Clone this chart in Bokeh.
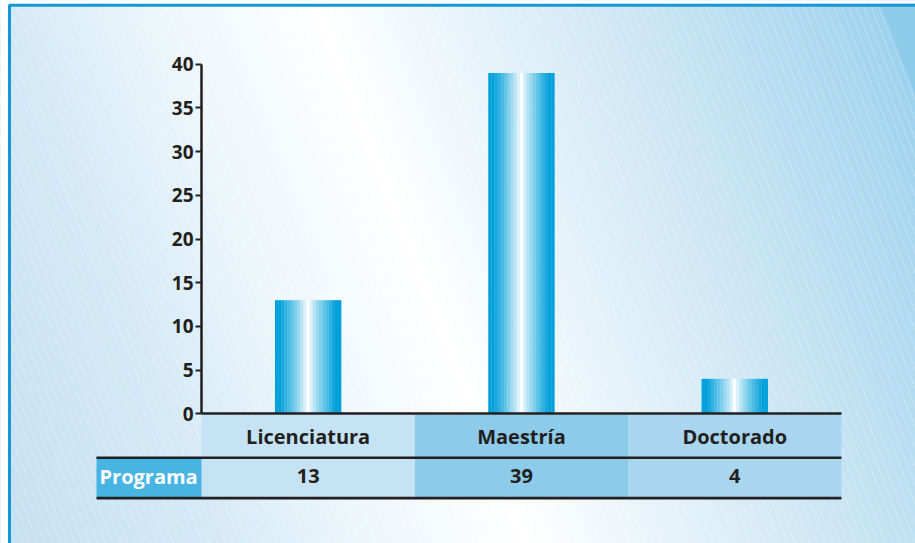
import numpy as np
from bokeh.plotting import figure
from bokeh.models import Range1d, LinearAxis, FixedTicker
from bokeh.embed import file_html
from bokeh.resources import INLINE
from bokeh.core.properties import value

# --- data -------------------------------------------------------------
categories = ["Licenciatura", "Maestría", "Doctorado"]
programas = [13, 39, 4]
row_label = "Programa"
y_ticks = [0, 5, 10, 15, 20, 25, 30, 35, 40]

# --- layout (pixels) --------------------------------------------------
W, H = 915, 543
COL_PX = 213.3      # width of one table column
AXIS_PX = 201       # x pixel of the value axis / left edge of the table
ZERO_PX = 413.3     # y pixel of value 0
UNIT_PX = 8.74      # pixels per unit of the value axis
TABLE_RIGHT = AXIS_PX + len(categories) * COL_PX
LABEL_CELL_LEFT = 96

x_range = Range1d(-0.5 - AXIS_PX / COL_PX, -0.5 + (W - AXIS_PX) / COL_PX)
y_range = Range1d(-(H - ZERO_PX) / UNIT_PX, ZERO_PX / UNIT_PX)

p = figure(width=W, height=H, x_range=x_range, y_range=y_range,
           output_backend="svg", toolbar_location=None,
           x_axis_location=None, y_axis_location=None,
           min_border=0, outline_line_color=None,
           border_fill_color="white", background_fill_color="white")
# pixel-space ranges for the decorative backdrop and the table
p.extra_x_ranges = {"px": Range1d(0, W)}
p.extra_y_ranges = {"px": Range1d(H, 0)}
PX = dict(x_range_name="px", y_range_name="px")


def hex2rgb(h):
    h = h.lstrip("#")
    return np.array([int(h[i:i + 2], 16) for i in (0, 2, 4)], dtype=float)


def rgb2hex(c):
    c = np.clip(np.round(c), 0, 255).astype(int)
    return "#%02x%02x%02x" % tuple(c)


# --- slanted gradient backdrop ----------------------------------------
SLOPE = 0.39
stops = [(-230, "#c3dff1"), (0, "#d3e9f6"), (150, "#ecf6fb"), (315, "#ffffff"),
         (460, "#e6f3fa"), (650, "#c8e4f3"), (860, "#a2d4ee"), (877, "#9cd2ed"),
         (879, "#8ecbea"), (1000, "#8ecbea")]
stop_u = np.array([s[0] for s in stops], dtype=float)
stop_c = np.array([hex2rgb(s[1]) for s in stops])


def grad_color(u):
    return rgb2hex([np.interp(u, stop_u, stop_c[:, j]) for j in range(3)])


band = 5.0
bxs, bys, bcols = [], [], []
for u0 in np.arange(-SLOPE * H - band, W + band, band):
    u1 = u0 + band + 0.6
    bxs.append([u0, u1, u1 + SLOPE * H, u0 + SLOPE * H])
    bys.append([0, 0, H, H])
    bcols.append(grad_color(u0 + band / 2))
p.patches(bxs, bys, fill_color=bcols, line_color=None, **PX)

# fine diagonal pinstripes
sxs, sys_ = [], []
for u in np.arange(-SLOPE * H, 876, 7.5):
    sxs.append([u, u + SLOPE * H])
    sys_.append([0, H])
p.multi_line(sxs, sys_, line_color="white", line_alpha=0.3, line_width=0.9, **PX)

# white margin and blue frame
p.quad(left=[0, 0], right=[7.5, W], top=[0, 0], bottom=[H, 3.3],
       fill_color="white", line_color=None, **PX)
p.multi_line([[9, 9, W + 5]], [[H + 5, 4.8, 4.8]], line_color="#1798d5",
             line_width=3, **PX)

# --- data table under the bars ----------------------------------------
idx = list(range(len(categories)))
col_colors = ["#c5e3f4", "#8ccbea", "#a8d6ef"]
p.quad(left=[i - 0.5 for i in idx], right=[i + 0.5 for i in idx],
       top=414, bottom=456.5, fill_color=col_colors, line_color=None,
       y_range_name="px")
p.quad(left=[i - 0.5 for i in idx], right=[i + 0.5 for i in idx],
       top=458, bottom=497, fill_color=col_colors, line_color=None,
       y_range_name="px")
p.quad(left=[LABEL_CELL_LEFT], right=[AXIS_PX], top=[456.5], bottom=[497],
       fill_color="#48b4e3", line_color=None, **PX)
p.segment(x0=[LABEL_CELL_LEFT, LABEL_CELL_LEFT], x1=[TABLE_RIGHT, TABLE_RIGHT],
          y0=[457.3, 497.6], y1=[457.3, 497.6], line_color="#231f20",
          line_width=2.6, **PX)

text_style = dict(text_font=value("Open Sans"), text_font_style="bold",
                  text_font_size="20px", text_baseline="middle")
p.text(x=idx, y=[436] * len(idx), text=categories, text_align="center",
       text_color="#231f20", y_range_name="px", **text_style)
p.text(x=idx, y=[475.5] * len(idx), text=[str(v) for v in programas],
       text_align="center", text_color="#231f20", y_range_name="px", **text_style)
p.text(x=[99], y=[476], text=[row_label], text_align="left",
       text_color="white", **PX, **text_style)

# --- bars with a metallic cylinder shading ----------------------------
N = 21
BAR_W = 0.31
strip_w = BAR_W / N
edge = hex2rgb("#00a0da")
white = np.array([255.0, 255.0, 255.0])
strip_colors = []
for k in range(N):
    t = min(1.0, abs(k - (N - 1) / 2) / ((N - 1) / 2) * 1.12) ** 0.85
    strip_colors.append(rgb2hex(white + (edge - white) * t))

sx, stop_, scol = [], [], []
for i, v in enumerate(programas):
    for k in range(N):
        sx.append(i - BAR_W / 2 + (k + 0.5) * strip_w)
        stop_.append(v)
        scol.append(strip_colors[k])
p.vbar(x=sx, top=stop_, bottom=0, width=strip_w * 1.08,
       fill_color=scol, line_color=None)

# --- axes ---------------------------------------------------------------
yaxis = LinearAxis(fixed_location=-0.5, bounds=(0, 40),
                   ticker=FixedTicker(ticks=y_ticks))
yaxis.axis_line_width = 2.5
yaxis.axis_line_color = "#231f20"
yaxis.major_tick_line_width = 2
yaxis.major_tick_line_color = "#231f20"
yaxis.major_tick_out = 6
yaxis.major_tick_in = 0
yaxis.minor_tick_line_color = None
yaxis.major_label_standoff = 2
yaxis.major_label_text_font = "Open Sans"
yaxis.major_label_text_font_style = "bold"
yaxis.major_label_text_font_size = "19px"
yaxis.major_label_text_color = "#231f20"
p.add_layout(yaxis, "left")

xaxis = LinearAxis(fixed_location=0, bounds=(-0.5, len(categories) - 0.5),
                   ticker=FixedTicker(ticks=[]))
xaxis.axis_line_width = 2.6
xaxis.axis_line_color = "#231f20"
xaxis.major_tick_line_color = None
xaxis.minor_tick_line_color = None
xaxis.major_label_text_font_size = "0px"
p.add_layout(xaxis, "below")

open("out.html", "w").write(file_html(p, INLINE))
